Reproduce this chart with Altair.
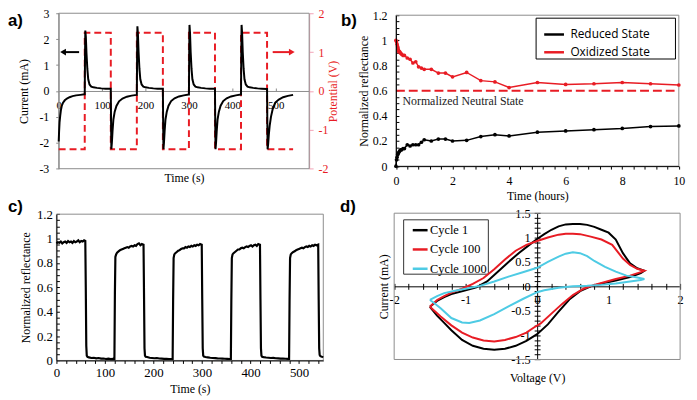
import altair as alt
import pandas as pd

W, H = 689, 392
RED = "#e81c24"
CYAN = "#4ecbe4"
GREY = "#8c8c8c"
PINK = "#f2a2b6"
SERIF = "Liberation Serif"

# ---------------- panel a : current (mA) and potential (V) vs time (s) ----------------
a_t_init = [0, 0.8, 2, 3.5, 5, 7, 10, 14, 19, 25, 32, 40, 50, 59.5]
a_i_init = [-1.95, -1.6, -1.2, -0.95, -0.75, -0.58, -0.45, -0.36, -0.29, -0.24, -0.2, -0.17, -0.15, -0.13]
a_t_u1 = [60, 60.6, 61.3, 62.5, 64, 66, 68, 71, 75, 80, 88, 98, 108, 119.5]
a_i_u1 = [-0.13, 1.3, 2.33, 2.1, 1.45, 0.85, 0.45, 0.25, 0.17, 0.14, 0.12, 0.1, 0.09, 0.085]
a_t_d1 = [120, 120.6, 121.3, 122.5, 124, 126, 129, 133, 139, 147, 157, 168, 179.5]
a_i_d1 = [0.085, -1.2, -2.25, -2.0, -1.55, -1.1, -0.8, -0.58, -0.4, -0.29, -0.22, -0.18, -0.15]
a_t_u2 = [180, 180.6, 181.3, 182.5, 184, 186, 188, 191, 195, 200, 208, 218, 228, 239.5]
a_i_u2 = [-0.15, 1.4, 2.5, 2.2, 1.5, 0.85, 0.45, 0.25, 0.17, 0.14, 0.12, 0.1, 0.09, 0.085]
a_t_d2 = [240, 240.6, 241.3, 242.5, 244, 246, 249, 253, 259, 267, 277, 288, 299.5]
a_i_d2 = [0.085, -1.2, -2.25, -2.0, -1.55, -1.1, -0.8, -0.57, -0.39, -0.28, -0.21, -0.17, -0.14]
a_t_u3 = [300, 300.6, 301.3, 302.5, 304, 306, 308, 311, 315, 320, 328, 338, 348, 359.5]
a_i_u3 = [-0.14, 1.4, 2.55, 2.25, 1.5, 0.85, 0.45, 0.25, 0.17, 0.14, 0.12, 0.1, 0.09, 0.085]
a_t_d3 = [360, 360.6, 361.3, 362.5, 364, 366, 369, 373, 379, 387, 397, 408, 419.5]
a_i_d3 = [0.085, -1.2, -2.25, -2.0, -1.55, -1.1, -0.8, -0.57, -0.39, -0.28, -0.21, -0.17, -0.14]
a_t_u4 = [420, 420.6, 421.3, 422.5, 424, 426, 428, 431, 435, 440, 448, 458, 468, 479.5]
a_i_u4 = [-0.14, 1.4, 2.55, 2.25, 1.5, 0.85, 0.45, 0.25, 0.17, 0.14, 0.12, 0.1, 0.09, 0.08]
a_t_d4 = [480, 480.6, 481.3, 482.5, 484, 486, 489, 493, 499, 507, 517, 528, 540]
a_i_d4 = [0.08, -1.2, -2.25, -2.05, -1.7, -1.35, -1.0, -0.7, -0.45, -0.33, -0.24, -0.19, -0.15]

a_time = a_t_init + a_t_u1 + a_t_d1 + a_t_u2 + a_t_d2 + a_t_u3 + a_t_d3 + a_t_u4 + a_t_d4
a_current = a_i_init + a_i_u1 + a_i_d1 + a_i_u2 + a_i_d2 + a_i_u3 + a_i_d3 + a_i_u4 + a_i_d4

a_pot_time = [0, 60, 60, 120, 120, 180, 180, 240, 240, 300, 300, 360, 360, 420, 420, 480, 480, 540]
a_potential = [-1.5, -1.5, 1.5, 1.5, -1.5, -1.5, 1.5, 1.5, -1.5, -1.5, 1.5, 1.5, -1.5, -1.5, 1.5, 1.5, -1.5, -1.5]

a_x_ticks = [0, 100, 200, 300, 400, 500]
a_i_ticks = [-3, -2, -1, 0, 1, 2, 3]
a_v_ticks = [-2, -1, 0, 1, 2]

# ---------------- panel b : normalized reflectance vs time (hours) ----------------
b_time = [0, 0.02, 0.04, 0.06, 0.08, 0.1, 0.13, 0.16, 0.2, 0.25, 0.3, 0.4, 0.5, 0.6, 0.7, 0.8,
          0.9, 1.0, 1.25, 1.5, 1.75, 2.0, 2.5, 3.0, 3.5, 4.0, 5, 6, 7, 8, 9, 10]
b_reduced = [0.0, 0.05, 0.07, 0.09, 0.1, 0.11, 0.12, 0.13, 0.13, 0.14, 0.14, 0.17, 0.16, 0.17, 0.17, 0.17,
             0.19, 0.21, 0.2, 0.215, 0.215, 0.2, 0.205, 0.235, 0.25, 0.24, 0.27, 0.28, 0.29, 0.3, 0.315, 0.32]
b_oxidized = [1.0, 0.99, 0.97, 0.95, 0.93, 0.91, 0.91, 0.9, 0.89, 0.88, 0.88, 0.86, 0.85, 0.82, 0.83, 0.79,
              0.78, 0.77, 0.77, 0.74, 0.74, 0.71, 0.745, 0.68, 0.67, 0.625, 0.665, 0.65, 0.655, 0.665, 0.655, 0.645]
b_states = ["Reduced State", "Oxidized State"]
b_neutral = 0.6
b_neutral_label = "Normalized Neutral State"
b_x_ticks = [0, 2, 4, 6, 8, 10]
b_y_ticks = [0, 0.2, 0.4, 0.6, 0.8, 1, 1.2]

# ---------------- panel c : normalized reflectance vs time (s) ----------------
c_t_h0 = [0, 3, 6, 9, 12, 15, 18, 21, 24, 27, 30, 33, 36, 39, 42, 45, 48, 51, 54, 57, 59.5]
c_r_h0 = [0.96, 0.97, 0.965, 0.975, 0.96, 0.97, 0.975, 0.965, 0.98, 0.97, 0.975, 0.965, 0.98, 0.97,
          0.975, 0.985, 0.97, 0.98, 0.975, 0.985, 0.98]
c_t_l1 = [60.5, 61.5, 62.5, 64, 67, 72, 77, 82, 87, 92, 97, 102, 107, 112, 117, 119.5]
c_r_l1 = [0.6, 0.12, 0.04, 0.03, 0.025, 0.02, 0.022, 0.017, 0.02, 0.015, 0.016, 0.012, 0.015, 0.011, 0.013, 0.012]
c_t_h1 = [120.5, 121.5, 123, 125, 128, 131, 134, 137, 140, 143, 146, 149, 152, 155, 158, 161, 164, 167, 170, 173, 176, 179.5]
c_r_h1 = [0.55, 0.85, 0.87, 0.885, 0.895, 0.905, 0.91, 0.915, 0.92, 0.925, 0.93, 0.925, 0.935, 0.94, 0.935,
          0.945, 0.94, 0.955, 0.96, 0.945, 0.955, 0.95]
c_t_l2 = [180.5, 181.5, 182.5, 184, 187, 192, 197, 202, 207, 212, 217, 222, 227, 232, 237, 239.5]
c_r_l2 = [0.55, 0.1, 0.04, 0.03, 0.028, 0.022, 0.02, 0.018, 0.02, 0.016, 0.015, 0.013, 0.014, 0.012, 0.012, 0.011]
c_t_h2 = [240.5, 241.5, 243, 245, 248, 251, 254, 257, 260, 263, 266, 269, 272, 275, 278, 281, 284, 287, 290, 293, 296, 299.5]
c_r_h2 = [0.5, 0.84, 0.87, 0.88, 0.89, 0.9, 0.905, 0.915, 0.92, 0.92, 0.93, 0.925, 0.935, 0.93, 0.94,
          0.935, 0.945, 0.94, 0.95, 0.945, 0.955, 0.95]
c_t_l3 = [300.5, 301.5, 302.5, 304, 307, 312, 317, 322, 327, 332, 337, 342, 347, 352, 357, 359.5]
c_r_l3 = [0.5, 0.1, 0.04, 0.032, 0.028, 0.025, 0.022, 0.02, 0.019, 0.017, 0.016, 0.015, 0.014, 0.013, 0.012, 0.012]
c_t_h3 = [360.5, 361.5, 363, 365, 368, 371, 374, 377, 380, 383, 386, 389, 392, 395, 398, 401, 404, 407, 410, 413, 416, 419.5]
c_r_h3 = [0.5, 0.84, 0.87, 0.88, 0.89, 0.9, 0.91, 0.91, 0.92, 0.925, 0.92, 0.93, 0.935, 0.93, 0.94,
          0.945, 0.935, 0.945, 0.95, 0.94, 0.955, 0.95]
c_t_l4 = [420.5, 421.5, 422.5, 424, 427, 432, 437, 442, 447, 452, 457, 462, 467, 472, 477, 479.5]
c_r_l4 = [0.5, 0.1, 0.04, 0.03, 0.027, 0.024, 0.022, 0.02, 0.021, 0.018, 0.017, 0.015, 0.016, 0.014, 0.013, 0.013]
c_t_h4 = [480.5, 481.5, 483, 485, 488, 491, 494, 497, 500, 503, 506, 509, 512, 515, 518, 521, 524, 527, 530, 533, 536, 539.5]
c_r_h4 = [0.5, 0.84, 0.87, 0.88, 0.89, 0.895, 0.905, 0.91, 0.915, 0.92, 0.925, 0.92, 0.93, 0.935, 0.93,
          0.94, 0.935, 0.945, 0.94, 0.95, 0.945, 0.95]
c_t_l5 = [540.5, 541.5, 542.5, 544, 547, 550]
c_r_l5 = [0.5, 0.1, 0.045, 0.035, 0.03, 0.028]

c_time = c_t_h0 + c_t_l1 + c_t_h1 + c_t_l2 + c_t_h2 + c_t_l3 + c_t_h3 + c_t_l4 + c_t_h4 + c_t_l5
c_refl = c_r_h0 + c_r_l1 + c_r_h1 + c_r_l2 + c_r_h2 + c_r_l3 + c_r_h3 + c_r_l4 + c_r_h4 + c_r_l5
c_x_ticks = [0, 100, 200, 300, 400, 500]
c_y_ticks = [0, 0.2, 0.4, 0.6, 0.8, 1, 1.2]

# ---------------- panel d : cyclic voltammograms ----------------
d_cycles = ["Cycle 1", "Cycle 100", "Cycle 1000"]
d1_v = [-1.5, -1.4, -1.3, -1.2, -1.0, -0.85, -0.7, -0.55, -0.4, -0.25, -0.1, 0.0, 0.1, 0.2, 0.3, 0.4, 0.5,
        0.6, 0.7, 0.8, 0.9, 1.0, 1.1, 1.2, 1.3, 1.4, 1.5,
        1.45, 1.3, 1.1, 1.0, 0.85, 0.75, 0.6, 0.45, 0.3, 0.15, 0.0, -0.15, -0.3, -0.45, -0.6, -0.75,
        -0.9, -1.05, -1.2, -1.3, -1.4, -1.5]
d1_i = [-0.42, -0.3, -0.22, -0.16, -0.08, -0.02, 0.1, 0.3, 0.5, 0.69, 0.86, 0.97, 1.07, 1.16, 1.23, 1.27, 1.28,
        1.28, 1.26, 1.22, 1.16, 1.1, 0.96, 0.68, 0.47, 0.37, 0.32,
        0.27, 0.19, 0.12, 0.09, 0.04, 0.0, -0.1, -0.27, -0.52, -0.78, -0.98, -1.12, -1.22, -1.28, -1.3, -1.28,
        -1.22, -1.1, -0.9, -0.75, -0.6, -0.42]
d100_v = [-1.5, -1.4, -1.3, -1.2, -1.05, -0.9, -0.75, -0.6, -0.45, -0.3, -0.15, 0.0, 0.15, 0.3, 0.4, 0.5,
          0.6, 0.75, 0.9, 1.05, 1.2, 1.3, 1.4, 1.5,
          1.45, 1.3, 1.1, 0.95, 0.8, 0.65, 0.5, 0.35, 0.2, 0.05, -0.05, -0.15, -0.3, -0.45, -0.6, -0.75,
          -0.9, -1.05, -1.2, -1.35, -1.5]
d100_i = [-0.42, -0.28, -0.2, -0.13, -0.05, 0.05, 0.17, 0.35, 0.55, 0.73, 0.85, 0.93, 1.0, 1.06, 1.08, 1.08,
          1.07, 1.02, 0.96, 0.85, 0.57, 0.44, 0.36, 0.32,
          0.29, 0.22, 0.15, 0.09, 0.03, -0.05, -0.18, -0.36, -0.56, -0.76, -0.85, -0.95, -1.04, -1.1, -1.13, -1.11,
          -1.05, -0.95, -0.8, -0.62, -0.42]
d1000_v = [-1.5, -1.4, -1.3, -1.15, -1.0, -0.8, -0.6, -0.4, -0.2, 0.0, 0.15, 0.3, 0.4, 0.5, 0.6, 0.7,
           0.8, 0.95, 1.1, 1.25, 1.4, 1.5,
           1.45, 1.3, 1.1, 0.9, 0.7, 0.5, 0.3, 0.1, 0.0, -0.2, -0.4, -0.6, -0.8, -0.95, -1.05, -1.2,
           -1.35, -1.45, -1.5]
d1000_i = [-0.28, -0.2, -0.14, -0.09, -0.05, 0.01, 0.1, 0.2, 0.29, 0.38, 0.5, 0.61, 0.67, 0.7, 0.68, 0.62,
           0.52, 0.4, 0.3, 0.22, 0.18, 0.15,
           0.13, 0.1, 0.06, 0.03, 0.01, 0.0, -0.03, -0.08, -0.12, -0.26, -0.41, -0.57, -0.7, -0.75, -0.74, -0.65,
           -0.45, -0.33, -0.28]
d_x_ticks = [round(-2 + 0.2 * k, 1) for k in range(21)]
d_y_ticks = [round(-1.5 + 0.1 * k, 1) for k in range(31)]

# ---------------- helpers ----------------
def sc(dom, rng):
    return alt.Scale(domain=dom, range=rng, nice=False, zero=False)

NEG = "(datum.value < 0 ? '-' : '') + format(abs(datum.value), '~g')"
INT_ONLY = ("abs(datum.value - round(datum.value)) < 0.001 ? "
            "((datum.value < 0 ? '-' : '') + format(abs(datum.value), '~g')) : ''")
HALF_ONLY = ("abs(datum.value * 2 - round(datum.value * 2)) < 0.001 ? "
             "((datum.value < 0 ? '-' : '') + format(abs(datum.value), '~g')) : ''")

# pixel frames of the four plot areas
A_X = ([0, 577], [51.3, 304.7]); A_I = ([-3, 3], [160.3, 3.0]); A_V = ([-2, 2], [160.3, 3.0]); A_Y0 = 81.65
B_X = ([0, 10], [392.5, 678.7]); B_Y = ([0, 1.2], [157.7, 5.0])
C_X = ([0, 550], [49.0, 319.0]); C_Y = ([0, 1.2], [354.3, 206.3])
D_X = ([-2, 2], [390.7, 680.0]); D_Y = ([-1.5, 1.5], [353.3, 205.3]); D_X0 = 535.35; D_Y0 = 279.3


def box(xd, yd):
    return pd.DataFrame({"x0": [xd[0][0]], "x1": [xd[0][1]], "y0": [yd[0][0]], "y1": [yd[0][1]]})


one = pd.DataFrame({"z": [0]})

# ---------------- panel a ----------------
df_a = pd.DataFrame({"t": a_time, "i": a_current})
df_a["k"] = range(len(df_a))
df_p = pd.DataFrame({"t": a_pot_time, "v": a_potential})
df_p["k"] = range(len(df_p))

a_box = alt.Chart(box(A_X, A_I)).mark_rect(fillOpacity=0, stroke=GREY, strokeWidth=1).encode(
    x=alt.X("x0:Q", scale=sc(*A_X), axis=None), x2="x1:Q",
    y=alt.Y("y0:Q", scale=sc(*A_I), axis=None), y2="y1:Q")

a_pot = alt.Chart(df_p).mark_line(color=RED, strokeWidth=2, strokeDash=[7, 4]).encode(
    x=alt.X("t:Q", scale=sc(*A_X), axis=alt.Axis(
        orient="top", offset=-A_Y0, values=a_x_ticks[1:], labels=False, domain=False,
        tickSize=3, tickColor=GREY, title=None)),
    y=alt.Y("v:Q", scale=sc(*A_V), axis=alt.Axis(
        orient="right", offset=304.7 - W, values=a_v_ticks, labelExpr=NEG, tickSize=4, labelPadding=5,
        domainColor=PINK, tickColor=PINK, labelColor=RED, title="Potential (V)", titleColor=RED,
        titleAngle=270, titleX=24, titleY=A_Y0, titleBaseline="middle", titleAlign="center")),
    order="k:Q")

a_cur = alt.Chart(df_a).mark_line(color="black", strokeWidth=2).encode(
    x=alt.X("t:Q", scale=sc(*A_X), axis=alt.Axis(
        orient="bottom", offset=A_Y0 - H, values=a_x_ticks, tickSize=0, labelPadding=9, labelFontSize=11,
        domainColor=GREY, title="Time (s)", titleY=87.35, titleBaseline="middle")),
    y=alt.Y("i:Q", scale=sc(*A_I), axis=alt.Axis(
        orient="left", offset=-51.3, values=a_i_ticks, labelExpr=NEG, tickSize=3, labelPadding=7,
        domainColor=GREY, tickColor=GREY, title="Current (mA)", titleAngle=270, titleX=-36,
        titleY=A_Y0, titleBaseline="middle", titleAlign="center")),
    order="k:Q")

df_arrow = pd.DataFrame({"t0": [12, 493], "t1": [47, 531], "y": [1.5, 1.5], "c": ["black", RED]})
a_arrow = alt.Chart(df_arrow).mark_rule(strokeWidth=2).encode(
    x=alt.X("t0:Q", scale=sc(*A_X), axis=None), x2="t1:Q",
    y=alt.Y("y:Q", scale=sc(*A_I), axis=None), color=alt.Color("c:N", scale=None))
df_head = pd.DataFrame({"t": [10, 537], "y": [1.5, 1.5], "s": ["triangle-left", "triangle-right"],
                        "c": ["black", RED]})
a_head = alt.Chart(df_head).mark_point(filled=True, size=45, opacity=1).encode(
    x=alt.X("t:Q", scale=sc(*A_X), axis=None), y=alt.Y("y:Q", scale=sc(*A_I), axis=None),
    shape=alt.Shape("s:N", scale=None), color=alt.Color("c:N", scale=None))

# ---------------- panel b ----------------
df_b = pd.DataFrame({
    "t": b_time + b_time,
    "r": b_reduced + b_oxidized,
    "state": [b_states[0]] * len(b_time) + [b_states[1]] * len(b_time),
})
df_b["k"] = range(len(df_b))
b_minor_y = [round(0.05 * k, 2) for k in range(25)]
b_minor_x = [round(0.4 * k, 1) for k in range(26)]

b_box = alt.Chart(box(B_X, B_Y)).mark_rect(fillOpacity=0, stroke=GREY, strokeWidth=1).encode(
    x=alt.X("x0:Q", scale=sc(*B_X), axis=alt.Axis(
        orient="bottom", offset=157.7 - H, values=b_minor_x, labels=False, domain=False,
        tickSize=3, title=None)),
    x2="x1:Q",
    y=alt.Y("y0:Q", scale=sc(*B_Y), axis=alt.Axis(
        orient="right", offset=392.5 - W, values=b_minor_y, labels=False, domain=False,
        tickSize=3, title=None)),
    y2="y1:Q")

b_color = alt.Scale(domain=b_states, range=["black", RED])
b_line = alt.Chart(df_b).mark_line(strokeWidth=1.5).encode(
    x=alt.X("t:Q", scale=sc(*B_X), axis=alt.Axis(
        orient="bottom", offset=157.7 - H, values=b_x_ticks, tickSize=0, labelPadding=10, zindex=1,
        title="Time (hours)", titleY=29.3, titleBaseline="middle")),
    y=alt.Y("r:Q", scale=sc(*B_Y), axis=alt.Axis(
        orient="left", offset=-392.5, values=b_y_ticks, format="~g", tickSize=0, labelPadding=9, zindex=1,
        title="Normalized reflectance", titleAngle=270, titleX=-32.5, titleY=81.35,
        titleBaseline="middle", titleAlign="center")),
    color=alt.Color("state:N", scale=b_color, legend=alt.Legend(
        orient="none", legendX=541, legendY=13, title=None, symbolType="stroke", symbolSize=400,
        symbolStrokeWidth=2.5, labelFont="Open Sans", labelFontSize=12, labelColor="black",
        padding=0, rowPadding=-3, labelOffset=5)),
    order="k:Q")

b_pts = alt.Chart(df_b).mark_point(filled=True, size=14, opacity=1).encode(
    x=alt.X("t:Q", scale=sc(*B_X), axis=None), y=alt.Y("r:Q", scale=sc(*B_Y), axis=None),
    color=alt.Color("state:N", scale=b_color, legend=None))

b_rule = alt.Chart(pd.DataFrame({"t0": [0], "t1": [9.85], "r": [b_neutral]})).mark_rule(
    color=RED, strokeWidth=2, strokeDash=[9, 4]).encode(
    x=alt.X("t0:Q", scale=sc(*B_X), axis=None), x2="t1:Q", y=alt.Y("r:Q", scale=sc(*B_Y), axis=None))

b_text = alt.Chart(pd.DataFrame({"t": [0.23], "r": [0.515], "label": [b_neutral_label]})).mark_text(
    align="left", baseline="middle", font=SERIF, fontSize=12, color="#222222").encode(
    x=alt.X("t:Q", scale=sc(*B_X), axis=None), y=alt.Y("r:Q", scale=sc(*B_Y), axis=None), text="label:N")

b_legend_box = alt.Chart(one).mark_rect(fill="white", stroke="black", strokeWidth=1).encode(
    x=alt.value(534.3), x2=alt.value(675.3), y=alt.value(8), y2=alt.value(49.3))

# ---------------- panel c ----------------
df_c = pd.DataFrame({"t": c_time, "r": c_refl})
df_c["k"] = range(len(df_c))
c_minor_y = [round(0.05 * k, 2) for k in range(25)]
c_minor_x = [20 * k for k in range(28)]

c_box = alt.Chart(box(C_X, C_Y)).mark_rect(fillOpacity=0, stroke=GREY, strokeWidth=1).encode(
    x=alt.X("x0:Q", scale=sc(*C_X), axis=alt.Axis(
        orient="bottom", offset=354.3 - H, values=c_minor_x, labels=False, domain=False,
        tickSize=3, title=None)),
    x2="x1:Q",
    y=alt.Y("y0:Q", scale=sc(*C_Y), axis=alt.Axis(
        orient="right", offset=49.0 - W, values=c_minor_y, labels=False, domain=False,
        tickSize=3, title=None)),
    y2="y1:Q")

c_line = alt.Chart(df_c).mark_line(color="black", strokeWidth=2.2).encode(
    x=alt.X("t:Q", scale=sc(*C_X), axis=alt.Axis(
        orient="bottom", offset=354.3 - H, values=c_x_ticks, tickSize=0, labelPadding=6, labelFontSize=13,
        zindex=1, title="Time (s)", titleY=28.7, titleBaseline="middle")),
    y=alt.Y("r:Q", scale=sc(*C_Y), axis=alt.Axis(
        orient="left", offset=-49.0, values=c_y_ticks, format="~g", tickSize=0, labelPadding=4,
        labelFontSize=13, zindex=1, title="Normalized reflectance", titleAngle=270, titleX=-31,
        titleY=280.3, titleBaseline="middle", titleAlign="center")),
    order="k:Q")

# ---------------- panel d ----------------
df_d = pd.DataFrame({
    "v": d1_v + d100_v + d1000_v,
    "i": d1_i + d100_i + d1000_i,
    "cycle": [d_cycles[0]] * len(d1_v) + [d_cycles[1]] * len(d100_v) + [d_cycles[2]] * len(d1000_v),
})
df_d["k"] = range(len(df_d))

d_box = alt.Chart(box(D_X, D_Y)).mark_rect(fillOpacity=0, stroke=GREY, strokeWidth=1).encode(
    x=alt.X("x0:Q", scale=sc(*D_X), axis=alt.Axis(
        orient="top", offset=-D_Y0, values=d_x_ticks, labels=False, domain=False, tickSize=3, title=None)),
    x2="x1:Q",
    y=alt.Y("y0:Q", scale=sc(*D_Y), axis=alt.Axis(
        orient="right", offset=D_X0 - W, values=d_y_ticks, labels=False, domain=False, tickSize=3,
        title=None)),
    y2="y1:Q")

d_line = alt.Chart(df_d).mark_line(strokeWidth=2).encode(
    x=alt.X("v:Q", scale=sc(*D_X), axis=alt.Axis(
        orient="bottom", offset=D_Y0 - H, values=d_x_ticks, labelExpr=INT_ONLY, tickSize=3, labelPadding=4,
        labelFontSize=12.5, title="Voltage (V)", titleY=92.7, titleBaseline="middle")),
    y=alt.Y("i:Q", scale=sc(*D_Y), axis=alt.Axis(
        orient="left", offset=-D_X0, values=d_y_ticks, labelExpr=HALF_ONLY, tickSize=3, labelPadding=4,
        labelFontSize=12.5, title="Current (mA)", titleAngle=270, titleX=380 - D_X0, titleY=D_Y0,
        titleBaseline="middle", titleAlign="center")),
    color=alt.Color("cycle:N", scale=alt.Scale(domain=d_cycles, range=["black", RED, CYAN]),
                    legend=alt.Legend(
                        orient="none", legendX=408, legendY=213.5, title=None, symbolType="stroke",
                        symbolSize=225, symbolStrokeWidth=2.5, labelFont=SERIF, labelFontSize=12.5,
                        labelColor="black", padding=0, rowPadding=3.5, labelOffset=1)),
    order="k:Q")

d_legend_box = alt.Chart(one).mark_rect(fill="white", stroke="#333333", strokeWidth=1).encode(
    x=alt.value(400.3), x2=alt.value(486), y=alt.value(212), y2=alt.value(267))


# ---------------- panel letters ----------------
def letter(txt, px, py):
    return alt.Chart(one).mark_text(
        align="left", baseline="middle", font="Liberation Sans", fontSize=17, fontWeight="bold",
        color="black").encode(x=alt.value(px), y=alt.value(py), text=alt.value(txt))


layers = [
    a_box, a_pot, a_cur, a_arrow, a_head,
    b_box, b_rule, b_text, b_line, b_pts, b_legend_box,
    c_box, c_line,
    d_box, d_legend_box, d_line,
    letter("a)", 0, 11), letter("b)", 337, 11), letter("c)", 0, 199), letter("d)", 336, 199.5),
]

chart = alt.layer(*layers).resolve_scale(
    x="independent", y="independent", color="independent", shape="independent"
).resolve_axis(x="independent", y="independent").resolve_legend(color="independent").properties(
    width=W, height=H, autosize=alt.AutoSizeParams(type="none"), padding=0
).configure(background="white").configure_view(stroke=None).configure_axis(
    grid=False, labelFont=SERIF, titleFont=SERIF, labelFontSize=12, titleFontSize=12,
    titleFontWeight="normal", labelColor="black", titleColor="black", domainColor="black",
    tickColor="black", labelFlush=False, labelOverlap=False, labelBound=False, domainWidth=1, tickWidth=1
)

chart.save("out.html", embed_options={"renderer": "svg", "actions": False})
